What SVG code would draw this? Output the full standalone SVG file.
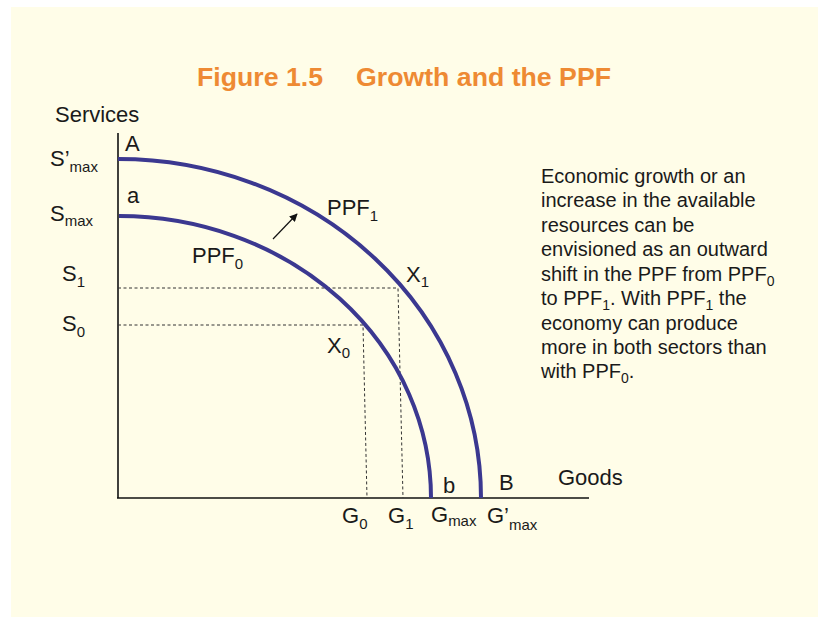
<svg xmlns="http://www.w3.org/2000/svg" width="818" height="617" viewBox="0 0 818 617">
<style>
.t{font-family:"Liberation Sans",Arial,sans-serif;fill:#1a1a1a;font-size:22px}
.s{font-size:15px}
.b{font-family:"Liberation Sans",Arial,sans-serif;fill:#1a1a1a;font-size:20px}
.title{font-family:"Liberation Sans",Arial,sans-serif;fill:#EE8A33;font-size:26.7px;font-weight:bold}
.ppf{fill:none;stroke:#3b3890;stroke-width:4}
.ax{stroke:#111;stroke-width:1.6;fill:none}
.dash{stroke:#333;stroke-width:1;stroke-dasharray:3 2.5;fill:none}
</style>
<defs>
<marker id="ah" viewBox="0 0 10 10" refX="9" refY="5" markerWidth="8" markerHeight="8" markerUnits="userSpaceOnUse" orient="auto"><path d="M0,0 L10,5 L0,10 z" fill="#111"/></marker>
</defs>
<rect x="0" y="0" width="818" height="617" fill="#ffffff"/>
<rect x="11" y="7" width="807" height="610" fill="#FFFDE8"/>
<g id="title">
<text class="title" x="197" y="86">Figure 1.5</text>
<text class="title" x="356" y="86">Growth and the PPF</text>
</g>
<g id="connectors">
<line class="ax" x1="118" y1="133" x2="118" y2="498"/>
<line class="ax" x1="117" y1="498" x2="589" y2="498"/>
<path class="dash" d="M118,288 L398,288 L403,498"/>
<path class="dash" d="M118,325 L363,325 L367,498"/>
<line x1="273" y1="239" x2="297" y2="214" stroke="#111" stroke-width="1.2" marker-end="url(#ah)"/>
</g>
<g id="PPF1">
<path class="ppf" d="M118,159 A363,339 0 0 1 481,498"/>
<text class="t" x="327" y="215">PPF<tspan class="s" dy="6">1</tspan></text>
</g>
<g id="PPF0">
<path class="ppf" d="M119,216 A312,282 0 0 1 431,498"/>
<text class="t" x="192" y="263">PPF<tspan class="s" dy="6">0</tspan></text>
</g>
<g id="axis-labels">
<text class="t" x="55" y="122">Services</text>
<text class="t" x="558" y="485">Goods</text>
<text class="t" x="125" y="151">A</text>
<text class="t" x="127" y="203">a</text>
<text class="t" x="443" y="493">b</text>
<text class="t" x="499" y="490">B</text>
<text class="t" x="50" y="166">S’<tspan class="s" dy="6">max</tspan></text>
<text class="t" x="50" y="221">S<tspan class="s" dy="5">max</tspan></text>
<text class="t" x="62" y="281">S<tspan class="s" dy="6">1</tspan></text>
<text class="t" x="62" y="331">S<tspan class="s" dy="6">0</tspan></text>
<text class="t" x="342" y="523">G<tspan class="s" dy="6">0</tspan></text>
<text class="t" x="388" y="523">G<tspan class="s" dy="6">1</tspan></text>
<text class="t" x="431" y="522">G<tspan class="s" dy="4">max</tspan></text>
<text class="t" x="487" y="523">G’<tspan class="s" dy="7">max</tspan></text>
<text class="t" x="406" y="282">X<tspan class="s" dy="5">1</tspan></text>
<text class="t" x="327" y="353">X<tspan class="s" dy="5">0</tspan></text>
</g>
<g id="note">
<text class="b" x="541" y="183">Economic growth or an</text>
<text class="b" x="541" y="207">increase in the available</text>
<text class="b" x="541" y="232">resources can be</text>
<text class="b" x="541" y="256">envisioned as an outward</text>
<text class="b" x="541" y="281">shift in the PPF from PPF<tspan font-size="14" dy="5">0</tspan></text>
<text class="b" x="541" y="305">to PPF<tspan font-size="14" dy="5">1</tspan><tspan dy="-5">. With PPF</tspan><tspan font-size="14" dy="5">1</tspan><tspan dy="-5"> the</tspan></text>
<text class="b" x="541" y="330">economy can produce</text>
<text class="b" x="541" y="354">more in both sectors than</text>
<text class="b" x="541" y="378">with PPF<tspan font-size="14" dy="5">0</tspan><tspan dy="-5">.</tspan></text>
</g>
</svg>
